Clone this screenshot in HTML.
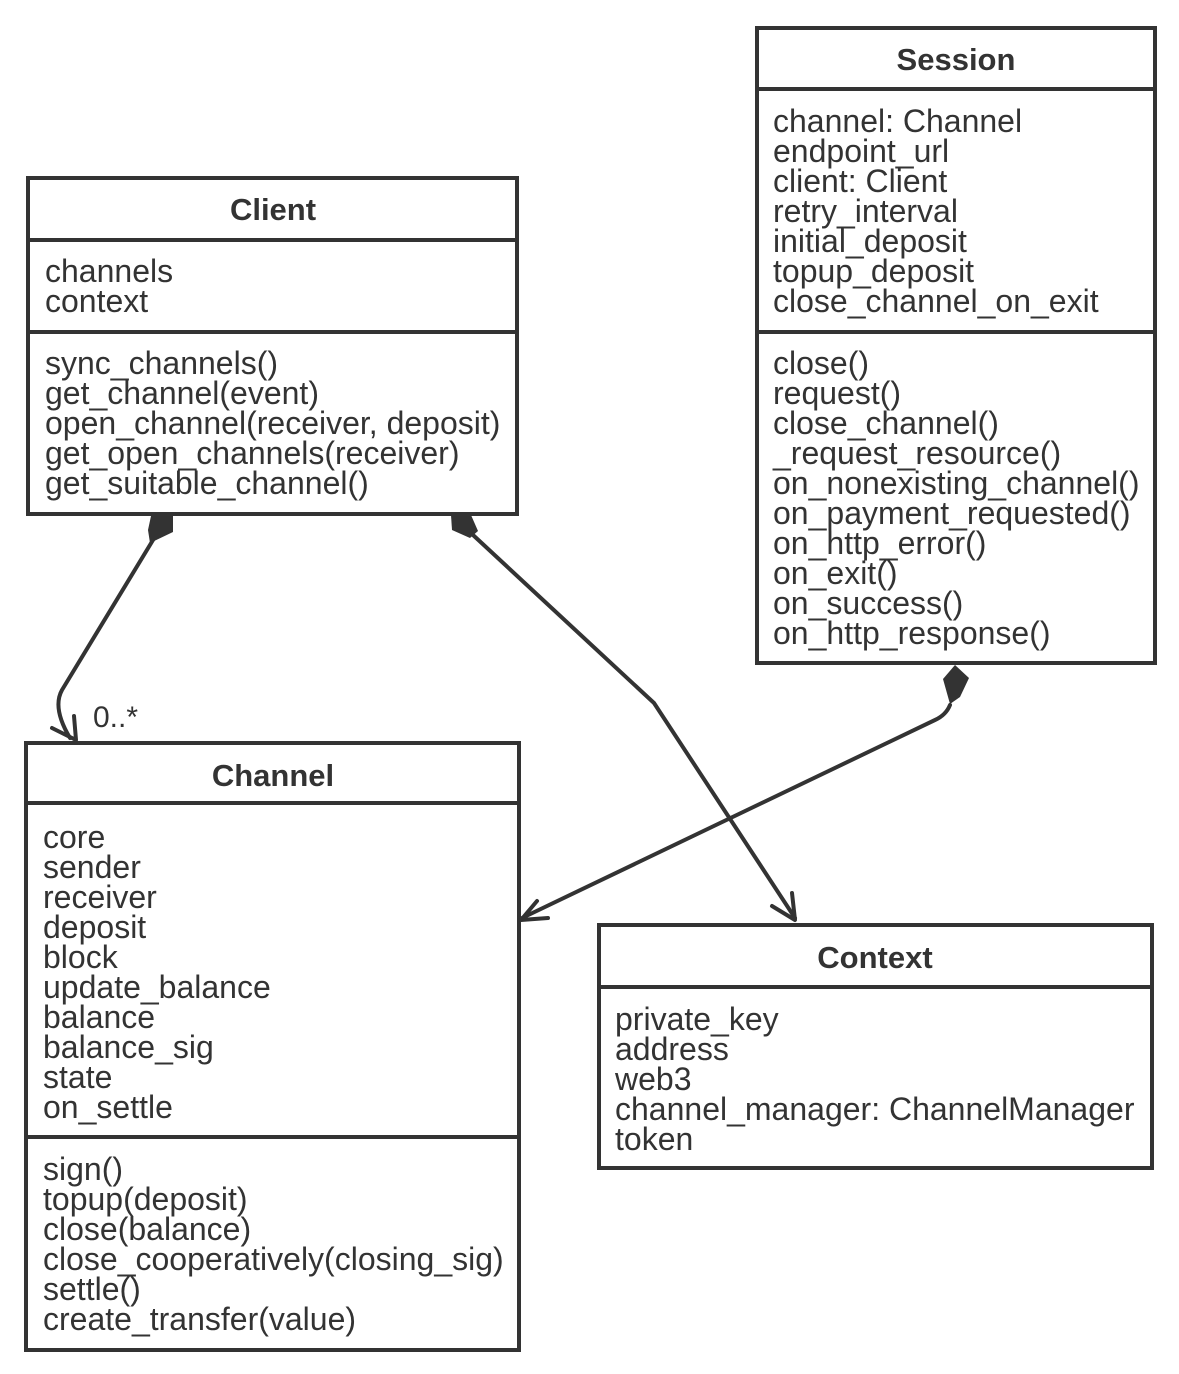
<!DOCTYPE html>
<html><head><meta charset="utf-8"><style>
html,body{margin:0;padding:0;background:#fff;}
svg{display:block;}
text{font-family:"Liberation Sans",Arial,sans-serif;fill:#333;font-size:32px;}
.t{font-weight:bold;font-size:31px;text-anchor:middle;}
</style></head><body>
<svg width="1179" height="1374" viewBox="0 0 1179 1374" xmlns="http://www.w3.org/2000/svg">
<g fill="none" stroke="#333" stroke-width="4">
<rect x="28" y="178" width="489" height="336"/>
<line x1="28" y1="240" x2="517" y2="240"/>
<line x1="28" y1="332" x2="517" y2="332"/>
<rect x="757" y="28" width="398" height="635"/>
<line x1="757" y1="89" x2="1155" y2="89"/>
<line x1="757" y1="332" x2="1155" y2="332"/>
<rect x="26" y="743" width="493" height="607"/>
<line x1="26" y1="803" x2="519" y2="803"/>
<line x1="26" y1="1137" x2="519" y2="1137"/>
<rect x="599" y="925" width="553" height="243"/>
<line x1="599" y1="987" x2="1152" y2="987"/>
</g>
<g fill="none" stroke="#333" stroke-width="4" stroke-linejoin="round" stroke-linecap="round">
<path d="M153,540 L62,690 Q52,708 70,738"/>
<path d="M52,728 L76,740 L74,716"/>
<path d="M473,535 L654,703 L795,918"/>
<path d="M772,906 L795,920 L792,893"/>
<path d="M950,705 Q946,715 935,720 L522,918"/>
<path d="M537,901 L521,920 L548,918"/>
</g>
<g fill="#333">
<polygon points="151,516 173,516 173,532 150,543 148,530"/>
<polygon points="451,515 471,515 478,531 470,538 452,530"/>
<polygon points="955,665 969,678 960,697 950,704 943,679"/>
</g>
<text class="t" x="273" y="220">Client</text>
<text x="45" y="282">channels</text>
<text x="45" y="312">context</text>
<text x="45" y="374">sync_channels()</text>
<text x="45" y="404">get_channel(event)</text>
<text x="45" y="434">open_channel(receiver, deposit)</text>
<text x="45" y="464">get_open_channels(receiver)</text>
<text x="45" y="494">get_suitable_channel()</text>

<text class="t" x="956" y="70">Session</text>
<text x="773" y="132">channel: Channel</text>
<text x="773" y="162">endpoint_url</text>
<text x="773" y="192">client: Client</text>
<text x="773" y="222">retry_interval</text>
<text x="773" y="252">initial_deposit</text>
<text x="773" y="282">topup_deposit</text>
<text x="773" y="312">close_channel_on_exit</text>
<text x="773" y="374">close()</text>
<text x="773" y="404">request()</text>
<text x="773" y="434">close_channel()</text>
<text x="773" y="464">_request_resource()</text>
<text x="773" y="494">on_nonexisting_channel()</text>
<text x="773" y="524">on_payment_requested()</text>
<text x="773" y="554">on_http_error()</text>
<text x="773" y="584">on_exit()</text>
<text x="773" y="614">on_success()</text>
<text x="773" y="644">on_http_response()</text>

<text x="93" y="727" style="font-size:30px">0..*</text>

<text class="t" x="273" y="786">Channel</text>
<text x="43" y="848">core</text>
<text x="43" y="878">sender</text>
<text x="43" y="908">receiver</text>
<text x="43" y="938">deposit</text>
<text x="43" y="968">block</text>
<text x="43" y="998">update_balance</text>
<text x="43" y="1028">balance</text>
<text x="43" y="1058">balance_sig</text>
<text x="43" y="1088">state</text>
<text x="43" y="1118">on_settle</text>
<text x="43" y="1180">sign()</text>
<text x="43" y="1210">topup(deposit)</text>
<text x="43" y="1240">close(balance)</text>
<text x="43" y="1270">close_cooperatively(closing_sig)</text>
<text x="43" y="1300">settle()</text>
<text x="43" y="1330">create_transfer(value)</text>

<text class="t" x="875" y="968">Context</text>
<text x="615" y="1030">private_key</text>
<text x="615" y="1060">address</text>
<text x="615" y="1090">web3</text>
<text x="615" y="1120">channel_manager: ChannelManager</text>
<text x="615" y="1150">token</text>
</svg>
</body></html>
